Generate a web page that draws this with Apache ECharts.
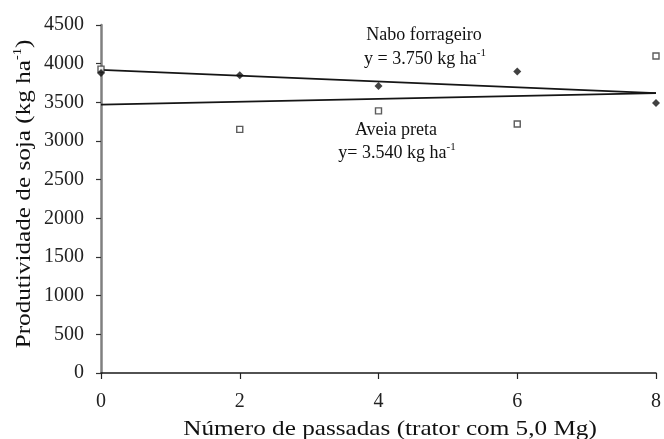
<!DOCTYPE html>
<html>
<head>
<meta charset="utf-8">
<script src="https://cdn.jsdelivr.net/npm/echarts@6/dist/echarts.min.js"></script>
<style>html,body{margin:0;padding:0;background:#fff}#c{width:664px;height:439px}</style>
</head>
<body>
<div id="c"></div>
<script>
const passadas = [0, 2, 4, 6, 8];
const naboValues = [3880, 3850, 3710, 3900, 3490];
const aveiaValues = [3930, 3150, 3390, 3220, 4100];
const naboTrendX = [0, 8];
const naboTrendY = [3920, 3620];
const aveiaTrendX = [0, 8];
const aveiaTrendY = [3470, 3620];
const xTicks = [0, 2, 4, 6, 8];
const yTicks = [0, 500, 1000, 1500, 2000, 2500, 3000, 3500, 4000, 4500];
const xTitle = 'Número de passadas (trator com 5,0 Mg)';
const yTitle = 'Produtividade de soja (kg ha';

const font = '"Liberation Serif", "DejaVu Serif", serif';
const chart = echarts.init(document.getElementById('c'));
const pair = (xs, ys) => xs.map((x, i) => [x, ys[i]]);

function eqText(cx, cy, main) {
  return {
    type: 'text', x: cx, y: cy,
    style: {
      text: '{a|' + main + '}{s|-1}',
      align: 'center', verticalAlign: 'middle',
      rich: {
        a: { font: '18px ' + font, fill: '#111', lineHeight: 22 },
        s: { font: '11px ' + font, fill: '#111', lineHeight: 22, verticalAlign: 'top' }
      }
    }
  };
}

chart.setOption({
  animation: false,
  textStyle: { fontFamily: font },
  grid: { left: 101, right: 3, top: 25, bottom: 66, containLabel: false },
  xAxis: {
    type: 'value', min: xTicks[0], max: xTicks[xTicks.length - 1], interval: 2,
    splitLine: { show: false },
    axisLine: { lineStyle: { color: '#1a1a1a', width: 1.5 } },
    axisTick: { show: true, length: 6, lineStyle: { color: '#222', width: 1.2 } },
    axisLabel: { color: '#222', fontSize: 20, fontFamily: font, margin: 19 }
  },
  yAxis: {
    type: 'value', min: yTicks[0], max: yTicks[yTicks.length - 1], interval: 500,
    splitLine: { show: false },
    axisLine: { show: true, lineStyle: { color: '#808080', width: 2.5 } },
    axisTick: { show: true, length: 5, lineStyle: { color: '#333', width: 1.2 } },
    axisLabel: { color: '#222', fontSize: 20, fontFamily: font, margin: 17,
                 formatter: v => String(v) }
  },
  graphic: [
    { type: 'text', x: 390, y: 429, scaleX: 1.2,
      style: { text: xTitle, font: '21px ' + font, fill: '#111', align: 'center', verticalAlign: 'middle' } },
    { type: 'text', x: 24, y: 194, rotation: Math.PI / 2, scaleX: 1.2,
      style: {
        text: '{a|' + yTitle + '}{s|-1}{a|)}',
        align: 'center', verticalAlign: 'middle',
        rich: {
          a: { font: '21px ' + font, fill: '#111', lineHeight: 24 },
          s: { font: '12px ' + font, fill: '#111', lineHeight: 24, verticalAlign: 'top' }
        }
      } },
    { type: 'text', x: 424, y: 35,
      style: { text: 'Nabo forrageiro', font: '18px ' + font, fill: '#111', align: 'center', verticalAlign: 'middle' } },
    eqText(425, 59, 'y = 3.750 kg ha'),
    { type: 'text', x: 396, y: 130,
      style: { text: 'Aveia preta', font: '18px ' + font, fill: '#111', align: 'center', verticalAlign: 'middle' } },
    eqText(397, 153, 'y= 3.540 kg ha')
  ],
  series: [
    { type: 'line', data: pair(naboTrendX, naboTrendY), symbol: 'none',
      lineStyle: { color: '#151515', width: 1.8 }, z: 2 },
    { type: 'line', data: pair(aveiaTrendX, aveiaTrendY), symbol: 'none',
      lineStyle: { color: '#151515', width: 1.8 }, z: 2 },
    { type: 'scatter', data: pair(passadas, aveiaValues), symbol: 'rect', symbolSize: 6,
      itemStyle: { color: '#fff', borderColor: '#333', borderWidth: 1.4 }, z: 3 },
    { type: 'scatter', data: pair(passadas, naboValues), symbol: 'diamond', symbolSize: 8,
      itemStyle: { color: '#111' }, z: 4 }
  ]
});
</script>
</body>
</html>
